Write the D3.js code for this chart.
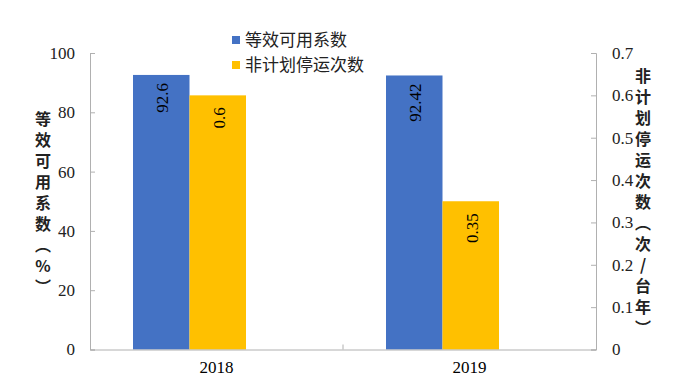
<!DOCTYPE html>
<html><head><meta charset="utf-8">
<script src="https://cdn.jsdelivr.net/npm/d3@7"></script>
<style>body{margin:0;background:#fff}</style>
</head><body>
<svg id="c" width="675" height="377"></svg>
<script>
const categories = ["2018", "2019"];
const seriesNames = ["等效可用系数", "非计划停运次数"];
const availability = [92.6, 92.42];
const outages = [0.6, 0.35];
const availLabels = ["92.6", "92.42"];
const outageLabels = ["0.6", "0.35"];
const leftTicks = [0, 20, 40, 60, 80, 100];
const rightTicks = [0, 0.1, 0.2, 0.3, 0.4, 0.5, 0.6, 0.7];
const leftTitle = "等效可用系数（%）";
const rightTitle = "非计划停运次数（次/台年）";
const colors = ["#4472C4", "#FFC000"];

const svg = d3.select("#c");
const L = 90, R = 596, T = 53, B = 349.5;
const x = d3.scaleBand().domain(categories).range([L, R]).paddingInner(0).paddingOuter(0);
const inner = d3.scaleBand().domain([0, 1]).range([43, 156]).paddingInner(0).paddingOuter(0);
const yL = d3.scaleLinear().domain([0, 100]).range([B, T]);
const yR = d3.scaleLinear().domain([0, 0.7]).range([B, T]);
const serif = "'Liberation Serif','Times New Roman',serif";
const cjk = "'Noto Sans CJK SC','Noto Sans',sans-serif";
const axisColor = "#b0b0b0";

// bars
const g = svg.append("g");
categories.forEach((c, i) => {
  const bx = x(c);
  const vals = [[availability[i], yL, availLabels[i]], [outages[i], yR, outageLabels[i]]];
  vals.forEach(([v, sc, lab], j) => {
    const x0 = bx + inner(j), w = inner.bandwidth();
    g.append("rect").attr("x", x0).attr("y", sc(v)).attr("width", w).attr("height", B - sc(v)).attr("fill", colors[j]);
    const cx = x0 + w / 2, ty = sc(v) + (j === 0 ? 8 : 12);
    g.append("text").attr("transform", `translate(${cx + 7},${ty}) rotate(-90)`)
      .attr("text-anchor", "end").style("font-family", serif).attr("font-size", 17).attr("fill", "#000").text(lab);
  });
});

// left axis
const la = svg.append("g").attr("transform", `translate(${L},0)`)
  .call(d3.axisRight(yL).tickValues(leftTicks).tickSize(5).tickFormat(d3.format("d")));
la.select(".domain").attr("stroke", axisColor);
la.selectAll(".tick line").attr("stroke", axisColor);
la.selectAll(".tick text").attr("x", -15).attr("text-anchor", "end").style("font-family", serif).attr("font-size", 17).attr("fill", "#222");

// right axis
const ra = svg.append("g").attr("transform", `translate(${R},0)`)
  .call(d3.axisLeft(yR).tickValues(rightTicks).tickSize(5).tickFormat(d => d === 0 ? "0" : d3.format(".1f")(d)));
ra.select(".domain").attr("stroke", axisColor);
ra.selectAll(".tick line").attr("stroke", axisColor);
ra.selectAll(".tick text").attr("x", 16).attr("text-anchor", "start").style("font-family", serif).attr("font-size", 17).attr("fill", "#222");

// bottom axis
const ba = svg.append("g").attr("transform", `translate(0,${B})`)
  .call(d3.axisBottom(x).tickSize(0));
ba.select(".domain").attr("stroke", axisColor);
ba.selectAll(".tick text").attr("y", 12).attr("dy", "0.68em").style("font-family", serif).attr("font-size", 17).attr("fill", "#000");
svg.append("line").attr("x1", x(categories[1])).attr("x2", x(categories[1])).attr("y1", B).attr("y2", B - 5).attr("stroke", axisColor);

// axis titles (vertical)
function vtitle(txt, cx, y0) {
  svg.append("text").attr("x", cx).attr("y", y0)
    .style("writing-mode", "vertical-rl").style("text-orientation", "upright")
    .style("font-family", cjk).attr("font-size", 16).attr("font-weight", 700)
    .attr("letter-spacing", 5).attr("fill", "#222").text(txt);
}
vtitle(leftTitle, 43, 111);
vtitle(rightTitle, 643, 68);

// legend
seriesNames.forEach((n, i) => {
  const ly = 40 + i * 25;
  svg.append("rect").attr("x", 232).attr("y", ly - 4).attr("width", 8).attr("height", 8).attr("fill", colors[i]);
  svg.append("text").attr("x", 245).attr("y", ly).attr("dy", "0.35em")
    .style("font-family", cjk).attr("font-size", 17).attr("fill", "#222").text(n);
});
</script>
</body></html>
